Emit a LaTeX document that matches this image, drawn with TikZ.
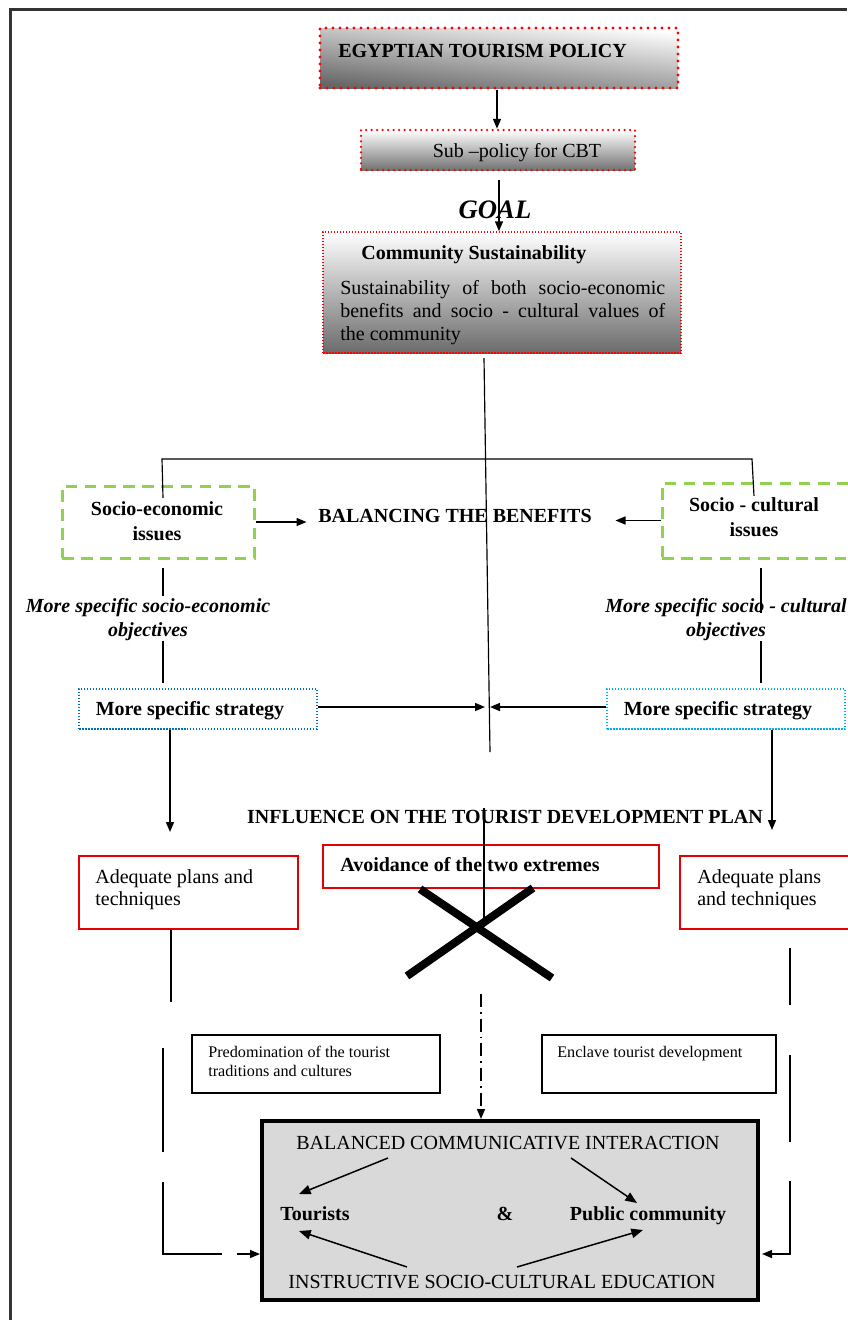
\documentclass[tikz,border=0pt]{standalone}
\usepackage{fontspec}
\setmainfont{Liberation Serif}
\usetikzlibrary{arrows.meta,fit}
\definecolor{dotred}{RGB}{255,0,0}
\definecolor{boxred}{RGB}{228,0,0}
\definecolor{issuegreen}{RGB}{146,208,80}
\definecolor{stratblue}{RGB}{0,112,192}
\definecolor{stratcyan}{RGB}{0,176,240}
\definecolor{panelgray}{RGB}{217,217,217}
\newcommand\dgnorm{\fontsize{12}{14.4}\selectfont}
\newcommand\dgpara{\fontsize{12}{13.8}\selectfont}
\newcommand\dgsmall{\fontsize{9.7}{11.6}\selectfont}
\newcommand\dggoal{\fontsize{16}{19}\selectfont}

\tikzset{
  frame/.style={line width=1.8pt, draw=black!80},
  conn/.style={line width=0.9pt},
  thin/.style={line width=0.7pt},
  arr/.style={conn, -{Triangle[length=6pt,width=4.8pt]}},
  bigarr/.style={conn, -{Triangle[length=7pt,width=5.6pt]}},
  txt/.style={font=\dgnorm, inner sep=0pt},
  btxt/.style={font=\dgnorm\bfseries, inner sep=0pt},
  bitxt/.style={font=\dgnorm\bfseries\itshape, inner sep=0pt},
  stxt/.style={font=\dgsmall, inner sep=0pt},
  box/.style={inner sep=0pt, rectangle},
  policybox/.style={box, draw=dotred, line width=1.9pt, line cap=round,
    dash pattern=on 0pt off 4.2pt, top color=white, bottom color=black!60,
    shading angle=-6},
  subbox/.style={box, draw=dotred, line width=1.5pt, line cap=round,
    dash pattern=on 0pt off 3.3pt, top color=white, bottom color=black!55},
  commbox/.style={box, draw=dotred, line width=0.9pt,
    dash pattern=on 0.9pt off 0.9pt, top color=white, bottom color=black!58},
  issuebox/.style={box, draw=issuegreen, line width=1.8pt,
    dash pattern=on 7pt off 4.5pt},
  stratL/.style={box, draw=stratblue, line width=0.9pt,
    dash pattern=on 0.9pt off 0.9pt},
  stratR/.style={box, draw=stratcyan, line width=0.9pt,
    dash pattern=on 0.9pt off 0.9pt},
  redbox/.style={box, draw=boxred, line width=0.8pt},
  plainbox/.style={box, draw=black, line width=0.8pt},
  panel/.style={box, draw=black, fill=panelgray, line width=2.4pt},
  cross/.style={line width=4.8pt},
  dashdot/.style={conn, dash pattern=on 7.8pt off 3pt on 1pt off 3pt,
    -{Triangle[length=6pt,width=4.8pt]}}
}

\begin{document}
\begin{tikzpicture}[x=0.6pt, y=-0.6pt]
\useasboundingbox (0,0) rectangle (847,1320);

% page frame (open to the right and bottom)
\draw[frame] (10,1320) -- (10,9) -- (847,9);

% ---- policy chain ----
\node[policybox, fit={(320,28) (678,88)}] (policy) {};
\node[btxt, anchor=base west] (policyt) at (338,57) {EGYPTIAN TOURISM POLICY};

\node[subbox, fit={(361,130) (635,170)}] (sub) {};
\node[txt, anchor=base] (subt) at (517,157) {Sub –policy for CBT};

\draw[arr] (policy.south -| 497,0) -- (sub.north -| 497,0);

\node[font=\dggoal\bfseries\itshape, inner sep=0pt, anchor=base] (goal) at (495,218) {GOAL};

\node[commbox, fit={(323,232) (681,353)}] (comm) {};
\node[btxt, anchor=base west] (commh) at (361,259) {Community Sustainability};
\node[font=\dgpara, inner sep=0pt, anchor=north west, text width=195pt, align=justify] (commt) at (340,280)
  {Sustainability of both socio-economic\linebreak benefits and socio - cultural values of\linebreak the community};

\coordinate (goaltop) at (499,180);
\draw[arr] (goaltop) -- (comm.north -| goaltop);

% ---- central axis ----
\coordinate (axtop) at (484,358);
\coordinate (axbot) at (490,752);
\draw[thin] (axtop) -- (axbot);

% ---- branch to the two issue groups ----
\node[issuebox, fit={(62,486) (254,558)}] (se) {};
\node[btxt, align=center, font=\fontsize{12}{15}\selectfont\bfseries] (set) at (157,521) {Socio-economic\\issues};
\node[issuebox, fit={(662,483) (852,558)}] (sc) {};
\node[btxt, align=center, font=\fontsize{12}{15}\selectfont\bfseries] (sct) at (754,517) {Socio - cultural\\issues};

\coordinate (brL) at (162,459);
\coordinate (brR) at (752,459);
\draw[thin] (163,498) -- (brL) -- (brR) -- (754,496);

\node[btxt, anchor=base] (bal) at (455,522) {BALANCING THE BENEFITS};
\draw[arr] (se.east) -- ++(51,0);
\draw[arr] (sc.west) -- ++(-45,0);

% ---- objectives ----
\node[bitxt, align=center] (objL) at (148,620) {More specific socio-economic\\objectives};
\node[bitxt, align=center] (objR) at (726,620) {More specific socio - cultural\\objectives};
\draw[thin] (163,568) -- (163,596);
\draw[thin] (163,641) -- (163,683);
\draw[thin] (761,568) -- (761,613);
\draw[thin] (761,641) -- (761,683);

% ---- strategies ----
\node[stratL, fit={(79,689) (317,729)}] (stL) {};
\node[btxt, anchor=base] (stLt) at (190,715) {More specific strategy};
\node[stratR, fit={(607,689) (845,729)}] (stR) {};
\node[btxt, anchor=base] (stRt) at (718,715) {More specific strategy};

\coordinate (meetL) at (485,707);
\coordinate (meetR) at (490,707);
\draw[arr] (stL.east |- meetL) -- (meetL);
\draw[arr] (stR.west |- meetR) -- (meetR);

\coordinate (downL) at (170,832);
\coordinate (downR) at (772,830);
\draw[arr] (stL.south -| downL) -- (downL);
\draw[arr] (stR.south -| downR) -- (downR);

\node[btxt, anchor=base] (infl) at (505,823) {INFLUENCE ON THE TOURIST DEVELOPMENT PLAN};

% ---- plans and the rejected extremes ----
\node[redbox, fit={(79,856) (298,929)}] (adL) {};
\node[txt, anchor=base west] (adL1) at (95,883) {Adequate plans and};
\node[txt, anchor=base west] (adL2) at (95,905) {techniques};

\node[redbox, fit={(323,845) (659,888)}] (avoid) {};
\node[btxt, anchor=base west] (avoidt) at (340,871) {Avoidance of the two extremes};

\node[redbox, fit={(680,856) (852,929)}] (adR) {};
\node[txt, anchor=base west] (adR1) at (697,883) {Adequate plans};
\node[txt, anchor=base west] (adR2) at (697,905) {and techniques};

\coordinate (ax2top) at (484,808);
\coordinate (ax2bot) at (484,918);
\draw[thin] (ax2top) -- (ax2bot);

\draw[cross] (407,976) -- (533,888);
\draw[cross] (420,889) -- (552,978);

% ---- the two extremes ----
\node[plainbox, fit={(192,1035) (440,1093)}] (pred) {};
\node[stxt, anchor=base west] (pred1) at (208,1057) {Predomination of the tourist};
\node[stxt, anchor=base west] (pred2) at (208,1076) {traditions and cultures};

\node[plainbox, fit={(542,1035) (776,1093)}] (encl) {};
\node[stxt, anchor=base west] (enclt) at (557,1057) {Enclave tourist development};

% ---- target panel ----
\node[panel, fit={(262,1121) (758,1300)}] (panel) {};
\node[txt, anchor=base] (bci) at (508,1149) {BALANCED COMMUNICATIVE INTERACTION};
\node[btxt, anchor=base] (tour) at (315,1220) {Tourists};
\node[btxt, anchor=base] (amp) at (505,1220) {\&};
\node[btxt, anchor=base] (pub) at (648,1220) {Public community};
\node[txt, anchor=base] (isce) at (502,1288) {INSTRUCTIVE SOCIO-CULTURAL EDUCATION};

\draw[bigarr] (388,1158) -- (299,1194);
\draw[bigarr] (571,1158) -- (637,1203);
\draw[bigarr] (407,1267) -- (299,1231);
\draw[bigarr] (517,1267) -- (643,1230);

% ---- feeds into the panel ----
\coordinate (ddtop) at (481,994);
\draw[dashdot] (ddtop) -- (panel.north -| ddtop);

\draw[thin] (adL.south -| 171,0) -- (171,1002);
\draw[thin] (163,1048) -- (163,1152);
\draw[thin] (163,1182) -- (163,1254) -- (222,1254);
\coordinate (inL) at (237,1254);
\draw[arr] (inL) -- (panel.west |- inL);

\draw[thin] (790,948) -- (790,1005);
\draw[thin] (790,1055) -- (790,1142);
\coordinate (inR) at (790,1181);
\draw[arr] (inR) -- (790,1254) -- (762,1254);
\end{tikzpicture}
\end{document}
